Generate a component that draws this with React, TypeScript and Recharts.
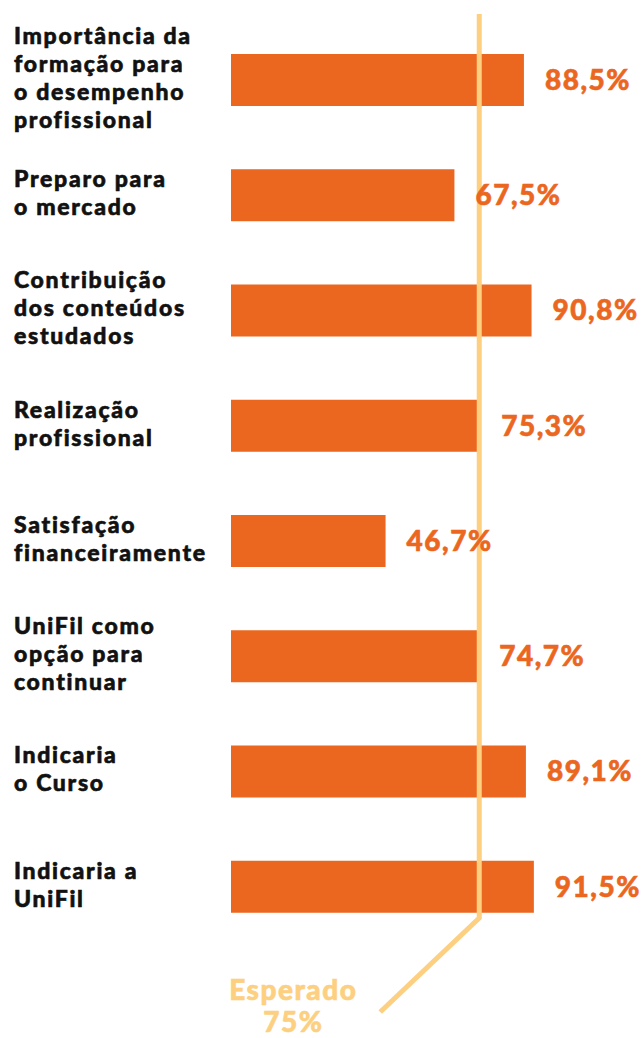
import React from 'react';
import { BarChart, Bar, XAxis, YAxis, ReferenceLine, LabelList } from 'recharts';

const categories = [
	'Importância da\nformação para\no desempenho\nprofissional',
	'Preparo para\no mercado',
	'Contribuição\ndos conteúdos\nestudados',
	'Realização\nprofissional',
	'Satisfação\nfinanceiramente',
	'UniFil como\nopção para\ncontinuar',
	'Indicaria\no Curso',
	'Indicaria a\nUniFil',
];
const values = [88.5, 67.5, 90.8, 75.3, 46.7, 74.7, 89.1, 91.5];
const expected = 75;
const expectedLabel = ['Esperado', '75%'];

const data = categories.map((name, i) => ({ name, value: values[i] }));

const FONT = 'Lato, "Open Sans", sans-serif';
const BAR = '#EB671F';
const LINE = '#FDCF80';

const fmt = (v: number) => `${v.toFixed(1).replace('.', ',')}%`;

const CategoryTick = ({ y, payload }: any) => {
	const lines = String(payload.value).split('\n');
	const lh = 28;
	const start = y - 2 - ((lines.length - 1) * lh) / 2;
	return (
		<g>
			{lines.map((t, i) => (
				<text
					key={i}
					x={14}
					y={start + i * lh}
					dy='0.36em'
					textAnchor='start'
					fill='#111111'
					stroke='#111111'
					strokeWidth={0.6}
					fontFamily={FONT}
					fontWeight={900}
					fontSize={23}
					letterSpacing={1.7}
				>
					{t}
				</text>
			))}
		</g>
	);
};

const ExpectedLine = (props: any) => {
	const { x1, y1, y2 } = props;
	const top = Math.min(y1, y2) - 8;
	const bend = Math.max(y1, y2) - 26;
	const endX = x1 - 99;
	const endY = bend + 94;
	return (
		<g>
			<polyline
				points={`${x1},${top} ${x1},${bend} ${endX},${endY}`}
				fill='none'
				stroke={LINE}
				strokeWidth={5}
			/>
			{expectedLabel.map((t, i) => (
				<text
					key={i}
					x={x1 - 186}
					y={bend + 72 + i * 32}
					dy='0.36em'
					textAnchor='middle'
					fill={LINE}
					stroke={LINE}
					strokeWidth={0.6}
					fontFamily={FONT}
					fontWeight={900}
					fontSize={28}
					letterSpacing={1.5}
				>
					{t}
				</text>
			))}
		</g>
	);
};

export default function App() {
	return (
		<div style={{ position: 'absolute', left: 0, top: 0, background: '#ffffff' }}>
			<BarChart
				width={641}
				height={1038}
				data={data}
				layout='vertical'
				margin={{ top: 22, right: 79, left: 0, bottom: 94 }}
			>
				<XAxis type='number' domain={[0, 100]} hide />
				<YAxis
					type='category'
					dataKey='name'
					width={231}
					axisLine={false}
					tickLine={false}
					tick={<CategoryTick />}
					interval={0}
				/>
				<Bar dataKey='value' fill={BAR} barSize={52} isAnimationActive={false}>
					<LabelList
						dataKey='value'
						position='right'
						offset={21}
						formatter={(v: any) => fmt(Number(v))}
						fill={BAR}
						stroke={BAR}
						strokeWidth={0.6}
						fontFamily={FONT}
						fontWeight={900}
						fontSize={28}
						letterSpacing={1.5}
					/>
				</Bar>
				<ReferenceLine x={expected} shape={<ExpectedLine />} />
			</BarChart>
		</div>
	);
}
